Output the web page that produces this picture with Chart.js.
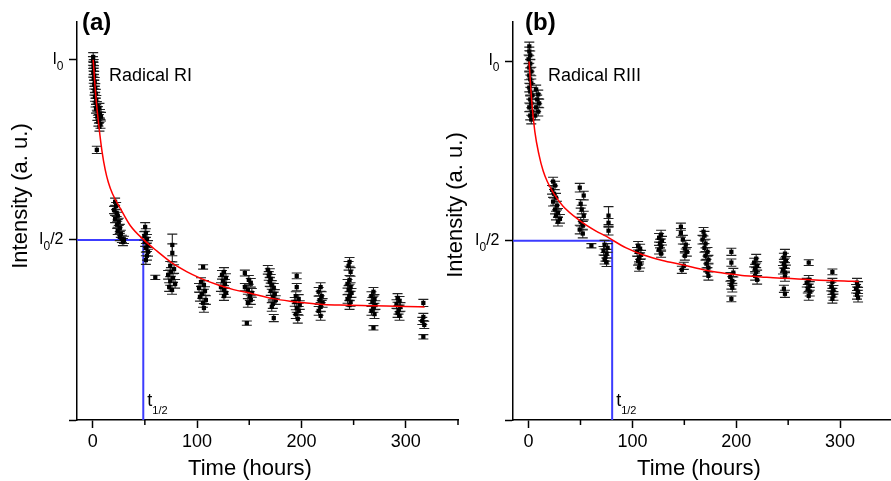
<!DOCTYPE html>
<html>
<head>
<meta charset="utf-8">
<script src="https://cdn.jsdelivr.net/npm/chart.js"></script>
<style>
  html, body { margin: 0; padding: 0; background: #fff; overflow: hidden; }
  body { width: 891px; height: 481px; position: relative; }
  #chartA { position: absolute; left: 0; top: 0; }
  #chartB { position: absolute; left: 436px; top: 0; }
</style>
</head>
<body>
<canvas id="chartA" width="470" height="481"></canvas>
<canvas id="chartB" width="460" height="481"></canvas>
<script>
// ============= Data =============
// [time (h), intensity / I0, error]
const pointsA = [
  [0.5,1.008,0.012],[0.3,0.997,0.012],[1,0.989,0.012],[0.8,0.981,0.012],[1.2,0.972,0.012],[0.6,0.964,0.012],
  [1.5,0.956,0.012],[1,0.947,0.012],[2,0.939,0.012],[1.5,0.931,0.012],[2.5,0.922,0.012],[1.8,0.914,0.012],
  [3,0.906,0.012],[2.2,0.897,0.012],[3.5,0.889,0.012],[2.8,0.881,0.012],[4,0.872,0.012],[3.2,0.864,0.012],
  [5,0.858,0.012],[6.5,0.867,0.012],[7,0.85,0.012],[4.5,0.844,0.012],[6,0.836,0.012],[8,0.842,0.012],
  [5.5,0.828,0.012],[7.5,0.822,0.012],[6.5,0.814,0.012],[4,0.75,0.01],
  [21.5,0.606,0.01],[22.5,0.594,0.01],[20.5,0.583,0.01],[23,0.575,0.01],[24,0.567,0.01],[21.5,0.558,0.01],
  [25,0.55,0.01],[23.5,0.542,0.01],[26,0.533,0.01],[24,0.525,0.01],[27,0.517,0.01],[26,0.508,0.01],
  [28,0.503,0.01],[30,0.5,0.01],[29,0.494,0.01],
  [50.3,0.536,0.012],[51,0.519,0.012],[49.5,0.511,0.012],[52,0.503,0.012],[50.3,0.494,0.012],[53,0.486,0.012],
  [51,0.478,0.012],[53,0.467,0.012],[52,0.456,0.012],[51,0.444,0.012],
  [60,0.396,0.006],
  [76.3,0.486,0.03],[76.3,0.464,0.025],[74.3,0.428,0.012],[78,0.419,0.012],[75,0.411,0.012],[72.3,0.403,0.012],
  [77,0.394,0.012],[74.3,0.386,0.012],[79,0.378,0.012],[73.3,0.369,0.012],[76,0.361,0.012],
  [105.8,0.425,0.006],[103.8,0.383,0.012],[106.6,0.375,0.012],[101.9,0.367,0.012],[107.6,0.358,0.012],
  [104.8,0.35,0.012],[102.8,0.342,0.012],[108.5,0.333,0.012],[105.7,0.325,0.012],[106.6,0.311,0.012],
  [125.8,0.411,0.012],[123.9,0.403,0.012],[127.7,0.394,0.012],[124.8,0.386,0.012],[126.7,0.378,0.012],
  [122.9,0.369,0.012],[125.8,0.361,0.012],[127.7,0.353,0.012],[125.8,0.344,0.012],
  [145.8,0.408,0.008],[149.6,0.389,0.012],[151.5,0.381,0.012],[145.8,0.369,0.01],[148.7,0.361,0.012],
  [152.5,0.353,0.012],[150.6,0.344,0.012],[151.5,0.333,0.012],[148.7,0.325,0.012],[147.7,0.269,0.006],
  [167.8,0.417,0.012],[169.7,0.408,0.012],[168.7,0.4,0.012],[170.6,0.392,0.012],[169.7,0.383,0.012],
  [171.6,0.375,0.012],[173.5,0.367,0.012],[170.6,0.358,0.012],[174.5,0.35,0.012],[172.6,0.342,0.012],
  [175.4,0.333,0.012],[172.6,0.322,0.012],[171.6,0.314,0.012],[173.5,0.283,0.01],
  [195.5,0.4,0.008],[195.5,0.369,0.01],[194.6,0.344,0.012],[197.4,0.336,0.012],[193.6,0.328,0.012],
  [198.4,0.319,0.012],[195.5,0.311,0.012],[197.4,0.303,0.012],[194.6,0.294,0.012],[196.5,0.281,0.012],
  [218.4,0.369,0.012],[216.5,0.356,0.012],[219.4,0.344,0.012],[217.5,0.333,0.012],[220.3,0.325,0.012],
  [218.4,0.314,0.012],[216.5,0.303,0.012],[218.4,0.289,0.012],
  [246.1,0.439,0.012],[245.2,0.428,0.012],[247.1,0.411,0.012],[246.1,0.389,0.012],[244.2,0.378,0.012],
  [247.1,0.369,0.012],[245.2,0.361,0.012],[248,0.353,0.012],[246.1,0.344,0.012],[244.2,0.336,0.012],
  [247.1,0.328,0.012],[246.1,0.319,0.012],
  [269,0.356,0.012],[267.1,0.344,0.012],[270,0.336,0.012],[268,0.328,0.012],[270.9,0.319,0.012],
  [269,0.311,0.012],[267.1,0.303,0.012],[270,0.294,0.012],[269,0.256,0.006],
  [292.1,0.339,0.012],[294,0.331,0.012],[291.1,0.322,0.012],[294.9,0.314,0.012],[293,0.306,0.012],
  [292.1,0.297,0.012],[294,0.289,0.012],
  [316.8,0.325,0.01],[316.8,0.286,0.01],[315.8,0.275,0.01],[317.7,0.264,0.01],[316.8,0.231,0.006]
];

const pointsB = [
  [0.7,1.042,0.012],[0.7,1.028,0.012],[1.6,1.017,0.012],[0,1.006,0.012],[1.6,0.994,0.012],[0.7,0.983,0.012],
  [2.6,0.972,0.012],[0.7,0.961,0.012],[1.6,0.95,0.012],[2.6,0.939,0.012],[0.7,0.927,0.012],[1.6,0.916,0.012],
  [3.5,0.905,0.012],[1.6,0.894,0.012],[2.6,0.883,0.012],[0.7,0.872,0.012],[3.5,0.86,0.012],[1.6,0.849,0.012],
  [2.6,0.838,0.012],[7.3,0.922,0.012],[9.3,0.908,0.012],[8.3,0.894,0.012],[10.2,0.883,0.012],[7.3,0.872,0.012],
  [9.3,0.86,0.012],[6.4,0.849,0.012],
  [23.6,0.665,0.012],[25.5,0.654,0.012],[22.6,0.642,0.012],[24.5,0.631,0.012],[26.4,0.62,0.012],[23.6,0.609,0.012],
  [27.4,0.598,0.012],[25.5,0.587,0.012],[28.3,0.578,0.012],[26.4,0.57,0.012],[30.2,0.561,0.012],[28.3,0.553,0.012],
  [49.3,0.648,0.012],[53.1,0.626,0.012],[50.2,0.603,0.012],[51.2,0.587,0.012],[53.1,0.57,0.012],[50.2,0.553,0.012],
  [52.2,0.542,0.012],[49.3,0.531,0.012],[52.2,0.52,0.012],
  [60.5,0.486,0.006],
  [77,0.57,0.025],[77,0.55,0.012],[77,0.528,0.012],[73.2,0.489,0.012],[76.1,0.48,0.012],[72.2,0.472,0.012],
  [75.1,0.464,0.012],[74.1,0.455,0.012],[73.2,0.447,0.012],[75.1,0.44,0.012],
  [105.5,0.486,0.012],[107.4,0.478,0.012],[104.5,0.469,0.012],[108.3,0.461,0.012],[106.4,0.453,0.012],
  [105.5,0.444,0.012],[107.4,0.436,0.012],[106.4,0.425,0.01],
  [127.6,0.517,0.012],[125.7,0.508,0.012],[128.5,0.5,0.012],[126.6,0.492,0.012],[127.6,0.483,0.012],
  [125.7,0.475,0.012],[127.6,0.464,0.01],
  [146.7,0.539,0.01],[146.7,0.522,0.012],[148.6,0.503,0.012],[151.4,0.489,0.012],[150.5,0.478,0.012],
  [152.4,0.469,0.012],[150.5,0.458,0.012],[149.5,0.43,0.01],[147.6,0.419,0.01],
  [168.5,0.525,0.012],[169.4,0.514,0.012],[167.5,0.503,0.012],[170.4,0.492,0.012],[169.4,0.48,0.012],
  [172.3,0.469,0.012],[170.4,0.458,0.012],[173.2,0.447,0.012],[171.3,0.436,0.012],[173.2,0.425,0.012],
  [172.3,0.413,0.012],[173.2,0.402,0.012],
  [195.3,0.469,0.01],[195.3,0.439,0.01],[197.2,0.411,0.012],[194.3,0.399,0.012],[196.2,0.388,0.012],
  [195.3,0.377,0.012],[196.2,0.369,0.012],[195.3,0.338,0.008],
  [219.2,0.45,0.012],[217.3,0.439,0.012],[220.1,0.43,0.012],[218.2,0.422,0.012],[219.2,0.413,0.012],
  [218.2,0.402,0.012],[220.1,0.391,0.012],
  [246.9,0.464,0.012],[245.9,0.453,0.012],[247.8,0.444,0.012],[245.9,0.436,0.012],[246.9,0.427,0.012],
  [245,0.419,0.012],[246.9,0.411,0.012],[246.9,0.399,0.012],[245.9,0.366,0.01],[246.9,0.352,0.01],
  [269.8,0.439,0.008],[269.8,0.391,0.012],[267.9,0.383,0.012],[270.8,0.374,0.012],[268.9,0.366,0.012],
  [270.8,0.358,0.012],[269.8,0.346,0.012],
  [292.6,0.413,0.008],[292.6,0.385,0.01],[291.6,0.372,0.012],[293.6,0.363,0.012],[292.6,0.355,0.012],
  [293.6,0.346,0.012],[292.6,0.338,0.012],
  [316.3,0.383,0.012],[317.3,0.374,0.012],[315.4,0.366,0.012],[317.3,0.358,0.012],[316.3,0.349,0.012],
  [317.3,0.341,0.012]
];

// fitted decay curves (red)
const fitA = [
  [0.5,1.0],[3,0.9],[6,0.815],[9,0.745],[12,0.695],[15,0.66],[19,0.628],[27,0.585],[36,0.54],[49,0.5],
  [62,0.468],[76,0.436],[90,0.412],[103,0.394],[119,0.376],[135,0.362],[151,0.352],[173,0.337],[189,0.33],
  [205,0.325],[221,0.321],[237,0.319],[269,0.317],[300,0.315],[318,0.314]
];
const fitB = [
  [0.5,1.0],[3,0.89],[6,0.805],[10,0.74],[14,0.695],[18,0.665],[24,0.633],[33,0.597],[49,0.557],[65,0.527],
  [75,0.512],[80,0.503],[94,0.48],[110,0.461],[129,0.445],[148,0.433],[161,0.424],[176,0.415],[192,0.408],
  [208,0.402],[224,0.399],[240,0.396],[256,0.394],[272,0.391],[288,0.389],[304,0.388],[318,0.386]
];

// half-life marks
const halfLevel = 0.5;
const halfA = 48.5;
const halfB = 80.5;

// axes
const xRange = [-15, 350];
const xTicks = [0, 100, 200, 300];
const xMinor = [50, 150, 250, 350];
const yTicks = [0, 0.5, 1];
const yTickLabels = [null, ["I", "0", "/2"], ["I", "0", ""]];

const FONT = "'Liberation Sans', Arial, sans-serif";

// ============= Helpers =============
function drawSub(ctx, x, y, main, sub, tail, size, subSize, drop, align) {
  ctx.font = `${size}px ${FONT}`;
  const wMain = ctx.measureText(main).width;
  const wTail = ctx.measureText(tail).width;
  ctx.font = `${subSize}px ${FONT}`;
  const wSub = ctx.measureText(sub).width;
  let sx = align === "right" ? x - (wMain + wSub + wTail) : x;
  ctx.textAlign = "left";
  ctx.textBaseline = "alphabetic";
  ctx.font = `${size}px ${FONT}`;
  ctx.fillText(main, sx, y);
  ctx.font = `${subSize}px ${FONT}`;
  ctx.fillText(sub, sx + wMain, y + drop);
  ctx.font = `${size}px ${FONT}`;
  ctx.fillText(tail, sx + wMain + wSub, y);
}

// error bars, drawn just before the markers of the scatter set
const errorBarPlugin = {
  id: "errorBars",
  beforeDatasetDraw(chart, args) {
    const ds = chart.data.datasets[args.index];
    if (!ds.errorBars) return;
    const { ctx, scales: { x, y } } = chart;
    ctx.save();
    ctx.strokeStyle = "#222";
    ctx.lineWidth = 1.1;
    ds.data.forEach((p) => {
      const px = x.getPixelForValue(p.x);
      const top = y.getPixelForValue(p.y + p.e);
      const bot = y.getPixelForValue(p.y - p.e);
      ctx.beginPath();
      ctx.moveTo(px, top);
      ctx.lineTo(px, bot);
      ctx.moveTo(px - 5, top);
      ctx.lineTo(px + 5, top);
      ctx.moveTo(px - 5, bot);
      ctx.lineTo(px + 5, bot);
      ctx.stroke();
    });
    ctx.restore();
  },
};

// labels with subscripts, axis titles, minor ticks
const textPlugin = {
  id: "panelText",
  afterDraw(chart) {
    const cfg = chart.config.options.panel;
    const { ctx, chartArea: a, scales: { x, y } } = chart;
    ctx.save();
    ctx.fillStyle = "#000";
    ctx.strokeStyle = "#000";
    ctx.lineWidth = 1.5;

    xMinor.forEach((v) => {
      const px = x.getPixelForValue(v);
      ctx.beginPath();
      ctx.moveTo(px, a.bottom);
      ctx.lineTo(px, a.bottom + 5);
      ctx.stroke();
    });

    yTicks.forEach((v, i) => {
      const lab = yTickLabels[i];
      if (!lab) return;
      const py = y.getPixelForValue(v);
      drawSub(ctx, a.left - 13.5, py + 4, lab[0], lab[1], lab[2], 16, 12, 6, "right");
    });

    // t1/2 label next to the vertical blue line
    const tx = x.getPixelForValue(cfg.half) + 4;
    drawSub(ctx, tx, 406, "t", "1/2", "", 18, 11, 8, "left");

    // panel letter and radical name
    ctx.textAlign = "left";
    ctx.textBaseline = "alphabetic";
    ctx.font = `bold 24px ${FONT}`;
    ctx.fillText(cfg.letter, cfg.letterX, 30);
    ctx.font = `18px ${FONT}`;
    ctx.fillText(cfg.name, cfg.nameX, 81);

    // axis titles
    ctx.font = `22px ${FONT}`;
    ctx.textAlign = "center";
    ctx.fillText("Time (hours)", cfg.xTitleX, 475);
    ctx.translate(cfg.yTitleX, cfg.yTitleY);
    ctx.rotate(-Math.PI / 2);
    ctx.fillText("Intensity (a. u.)", 0, 0);
    ctx.restore();
  },
};

// ============= Chart =============
function buildChart(id, points, fit, half, panel) {
  const axisGrid = { drawOnChartArea: false, tickLength: 8, tickWidth: 1.5, tickColor: "#000" };
  const axisBorder = { color: "#000", width: 1.5 };
  return new Chart(document.getElementById(id), {
    type: "scatter",
    data: {
      datasets: [
        {
          type: "line",
          data: fit.map(([x, y]) => ({ x, y })),
          borderColor: "#ff0000",
          borderWidth: 1.5,
          pointRadius: 0,
          cubicInterpolationMode: "monotone",
          order: 1,
        },
        {
          data: points.map(([x, y, e]) => ({ x, y, e })),
          backgroundColor: "#000",
          borderWidth: 0,
          pointStyle: "rect",
          pointRadius: 3,
          errorBars: true,
          order: 2,
        },
        {
          type: "line",
          data: [
            { x: xRange[0], y: halfLevel },
            { x: half, y: halfLevel },
            { x: half, y: 0 },
          ],
          borderColor: "#3c3cff",
          borderWidth: 2,
          pointRadius: 0,
          order: 3,
        },
      ],
    },
    options: {
      responsive: false,
      animation: false,
      events: [],
      panel: { ...panel, half },
      layout: { padding: { top: 22, right: panel.padRight, left: 0, bottom: 0 } },
      plugins: { legend: { display: false }, tooltip: { enabled: false } },
      scales: {
        x: {
          type: "linear",
          min: xRange[0],
          max: xRange[1],
          afterBuildTicks: (s) => { s.ticks = xTicks.map((v) => ({ value: v })); },
          afterFit: (s) => { s.height = 61; },
          grid: axisGrid,
          border: axisBorder,
          ticks: { color: "#000", font: { family: FONT, size: 18 }, padding: 3.5, maxRotation: 0 },
        },
        y: {
          type: "linear",
          min: 0,
          max: panel.yMax,
          afterBuildTicks: (s) => { s.ticks = yTicks.map((v) => ({ value: v })); },
          afterFit: (s) => { s.width = 77; },
          grid: axisGrid,
          border: axisBorder,
          ticks: { display: false },
        },
      },
    },
    plugins: [errorBarPlugin, textPlugin],
  });
}

buildChart("chartA", pointsA, fitA, halfA, {
  letter: "(a)", letterX: 82, name: "Radical RI", nameX: 109,
  xTitleX: 250, yTitleX: 26.5, yTitleY: 196, yMax: 1.105, padRight: 12,
});
buildChart("chartB", pointsB, fitB, halfB, {
  letter: "(b)", letterX: 89, name: "Radical RIII", nameX: 112,
  xTitleX: 263, yTitleX: 25.7, yTitleY: 205, yMax: 1.11, padRight: 1,
});
</script>
</body>
</html>
